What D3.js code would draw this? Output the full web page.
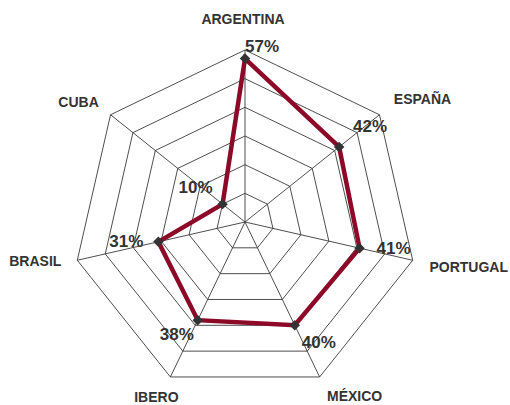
<!DOCTYPE html>
<html>
<head>
<meta charset="utf-8">
<script src="https://cdn.jsdelivr.net/npm/d3@7"></script>
<style>
  html, body { margin: 0; padding: 0; background: #fff; }
  svg { display: block; }
  text { font-family: "Liberation Sans", Arial, sans-serif; font-weight: bold; fill: #333; }
</style>
</head>
<body>
<svg id="chart" width="510" height="405"></svg>
<script>
// Categories (clockwise from the top) and their shares in percent
const categories = ["ARGENTINA", "ESPAÑA", "PORTUGAL", "MÉXICO", "IBERO", "BRASIL", "CUBA"];
const values = [57, 42, 41, 40, 38, 31, 10];
const ringTicks = [10, 20, 30, 40, 50, 60];

const width = 510, height = 405;
const cx = 245, cy = 222, radius = 172;

const svg = d3.select("#chart");
const g = svg.append("g").attr("transform", `translate(${cx},${cy})`);

const angle = d3.scalePoint()
  .domain(categories)
  .range([0, 2 * Math.PI * (categories.length - 1) / categories.length]);
const r = d3.scaleLinear().domain([0, d3.max(ringTicks)]).range([0, radius]);

const pt = (cat, v) => {
  const a = angle(cat);
  return [Math.sin(a) * r(v), -Math.cos(a) * r(v)];
};

// Grid rings
const ringLine = d3.line().curve(d3.curveLinearClosed);
g.selectAll("path.ring")
  .data(ringTicks)
  .join("path")
  .attr("class", "ring")
  .attr("d", t => ringLine(categories.map(c => pt(c, t))))
  .attr("fill", "none")
  .attr("stroke", "#3a3a3a")
  .attr("stroke-width", 0.9);

// Spokes
g.selectAll("line.spoke")
  .data(categories)
  .join("line")
  .attr("class", "spoke")
  .attr("x1", 0).attr("y1", 0)
  .attr("x2", c => pt(c, d3.max(ringTicks))[0])
  .attr("y2", c => pt(c, d3.max(ringTicks))[1])
  .attr("stroke", "#3a3a3a")
  .attr("stroke-width", 0.9);

// Data polygon
const series = categories.map((c, i) => ({ cat: c, v: values[i], p: pt(c, values[i]) }));
g.append("path")
  .attr("d", ringLine(series.map(d => d.p)))
  .attr("fill", "none")
  .attr("stroke", "#8c0a28")
  .attr("stroke-width", 4.5)
  .attr("stroke-linejoin", "miter");

// Diamond markers
const diamond = d3.symbol().type(d3.symbolDiamond2).size(70);
g.selectAll("path.marker")
  .data(series)
  .join("path")
  .attr("class", "marker")
  .attr("transform", d => `translate(${d.p[0]},${d.p[1]})`)
  .attr("d", diamond)
  .attr("fill", "#333");

// Value labels, nudged away from each marker
const valueNudge = [[17, -13], [31, -21], [34, 0], [24, 17], [-21, 14], [-32, -1], [-27, -17]];
const valueSize = 17;
g.selectAll("text.value")
  .data(series)
  .join("text")
  .attr("class", "value")
  .attr("x", (d, i) => d.p[0] + valueNudge[i][0])
  .attr("y", (d, i) => d.p[1] + valueNudge[i][1] + valueSize * 0.358)
  .attr("text-anchor", "middle")
  .style("font-size", valueSize + "px")
  .text(d => d.v + "%");

// Category labels outside the outer ring
const catNudge = [[-2, -31], [43, -16], [56, 7], [35, 19], [-14, 20], [-42, 1], [-32, -13]];
const catSize = 14;
g.selectAll("text.cat")
  .data(categories)
  .join("text")
  .attr("class", "cat")
  .attr("x", (c, i) => pt(c, d3.max(ringTicks))[0] + catNudge[i][0])
  .attr("y", (c, i) => pt(c, d3.max(ringTicks))[1] + catNudge[i][1] + catSize * 0.358)
  .attr("text-anchor", "middle")
  .style("font-size", catSize + "px")
  .text(c => c);
</script>
</body>
</html>
